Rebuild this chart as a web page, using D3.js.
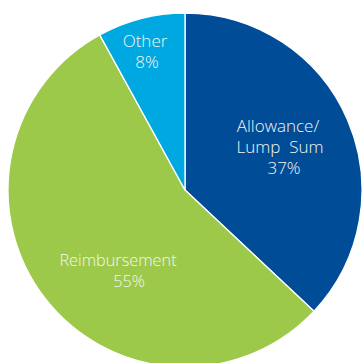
<!DOCTYPE html>
<html>
<head>
<meta charset="utf-8">
<script src="https://cdn.jsdelivr.net/npm/d3@7"></script>
<style>
  html, body { margin: 0; padding: 0; background: #fff; }
  svg { display: block; }
</style>
</head>
<body>
<div id="chart"></div>
<script>
// Данные
const categories = ["Allowance/\nLump  Sum", "Reimbursement", "Other"];
const shares = [37, 55, 8];
const colors = ["#004C97", "#9DC94A", "#00A8E2"];

const width = 363;
const height = 363;
const cx = 185;
const cy = 190;
const radius = 177;

// Позиции подписей (центр блока текста относительно центра круга)
const labelSpots = [
  { x: 96, y: -43, shifts: [-3, -1, 3] },
  { x: -67, y: 80, shifts: [0, 11] },
  { x: -40, y: -139, shifts: [0, 2] },
];

const svg = d3
  .select("#chart")
  .append("svg")
  .attr("width", width)
  .attr("height", height);

const g = svg.append("g").attr("transform", `translate(${cx}, ${cy})`);

const pie = d3.pie().sort(null).value((d) => d);
const arc = d3.arc().innerRadius(0).outerRadius(radius);

const arcs = pie(shares);

g.selectAll("path")
  .data(arcs)
  .join("path")
  .attr("d", arc)
  .attr("fill", (d, i) => colors[i])
  .attr("stroke", "#fff")
  .attr("stroke-width", 1.3);

const lineH = 21;

arcs.forEach((d, i) => {
  const lines = categories[i].split("\n").concat([shares[i] + "%"]);
  const spot = labelSpots[i];
  const top = spot.y - ((lines.length - 1) * lineH) / 2;
  const text = g
    .append("text")
    .attr("font-family", "'Open Sans', sans-serif")
    .attr("font-weight", 300)
    .attr("font-size", i === 1 ? "16.3px" : "17px")
    .attr("fill", "#f4f6f0")
    .attr("text-anchor", "middle")
    .style("white-space", "pre");
  lines.forEach((ln, j) => {
    text
      .append("tspan")
      .attr("x", spot.x + (spot.shifts[j] || 0))
      .attr("y", top + j * lineH + 6)
      .text(ln);
  });
});
</script>
</body>
</html>
